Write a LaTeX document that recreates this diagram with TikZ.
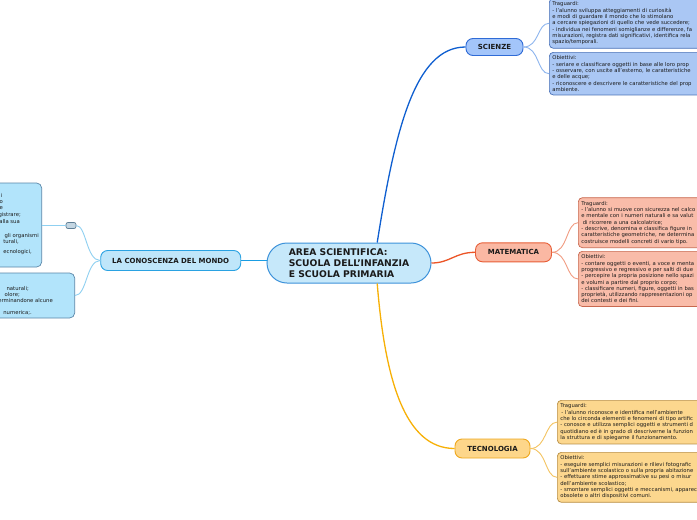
\documentclass[tikz,border=0pt]{standalone}
\usepackage{fontspec}
\setmainfont{DejaVu Sans}
\definecolor{txt}{HTML}{1A1A1A}
\definecolor{cenFill}{HTML}{C6E8FA}
\definecolor{cenDraw}{HTML}{3D92DA}
\definecolor{scnLine}{HTML}{0F5FD0}
\definecolor{scnFill}{HTML}{A3C5FA}
\definecolor{scnDraw}{HTML}{2F6BD6}
\definecolor{scnBoxFill}{HTML}{AAC7F4}
\definecolor{scnBoxDraw}{HTML}{4B72B8}
\definecolor{scnBranch}{HTML}{8DB5EE}
\definecolor{matLine}{HTML}{EC5527}
\definecolor{matFill}{HTML}{FAB8A3}
\definecolor{matDraw}{HTML}{E85E37}
\definecolor{matBoxFill}{HTML}{F9BCA9}
\definecolor{matBoxDraw}{HTML}{C8684F}
\definecolor{matBranch}{HTML}{F19C82}
\definecolor{tecLine}{HTML}{F7B006}
\definecolor{tecFill}{HTML}{FDD68A}
\definecolor{tecDraw}{HTML}{EEA81E}
\definecolor{tecBoxFill}{HTML}{FCD78E}
\definecolor{tecBoxDraw}{HTML}{B88F45}
\definecolor{tecBranch}{HTML}{F4C462}
\definecolor{conLine}{HTML}{1A9DE3}
\definecolor{conFill}{HTML}{BFE6FA}
\definecolor{conDraw}{HTML}{2AA2E2}
\definecolor{conBoxFill}{HTML}{B2E4FB}
\definecolor{conBoxDraw}{HTML}{5A86A8}
\definecolor{conBranch}{HTML}{8FD0F1}
\definecolor{mkFill}{HTML}{C4D6E2}
\definecolor{mkDraw}{HTML}{5F7F96}
\begin{document}
\begin{tikzpicture}[x=1pt,y=-1pt,
  central/.style={draw=cenDraw, fill=cenFill, line width=1pt, rounded corners=20pt,
    minimum width=164pt, minimum height=40pt, align=left, text=txt,
    font=\fontsize{9.2}{11}\selectfont\bfseries},
  topic/.style={draw, line width=0.9pt, rounded corners=7pt, minimum height=19pt,
    inner xsep=0pt, text=txt, font=\fontsize{7}{8}\selectfont\bfseries},
  ibox/.style={draw, line width=0.7pt, rounded corners=4pt, align=left, text width=200pt,
    inner xsep=3pt, inner ysep=3.5pt, text=txt, font=\fontsize{5.3}{6.3}\selectfont},
  frag/.style={anchor=base east, inner sep=0pt, text=txt, font=\fontsize{5.3}{6.3}\selectfont},
  conn/.style={line width=1.3pt},
  brn/.style={line width=0.9pt}]
\useasboundingbox (0,0) rectangle (697,520);
\clip (0,0) rectangle (697,520);
\fill[white] (0,0) rectangle (697,520);

% central
\node[central] (cen) at (349,263) {AREA SCIENTIFICA:\\SCUOLA DELL'INFANZIA\\E SCUOLA PRIMARIA};

% topics
\node[topic, draw=scnDraw, fill=scnFill, minimum width=57pt, minimum height=17pt] (scn) at (494.5,47) {SCIENZE};
\node[topic, draw=matDraw, fill=matFill, minimum width=76pt] (mat) at (513.5,252.3) {MATEMATICA};
\node[topic, draw=tecDraw, fill=tecFill, minimum width=75pt] (tec) at (492.5,448.5) {TECNOLOGIA};
\node[topic, draw=conDraw, fill=conFill, minimum width=140pt, minimum height=20pt] (con) at (170.7,260.5) {LA CONOSCENZA DEL MONDO};

% scienze boxes
\node[ibox, draw=scnBoxDraw, fill=scnBoxFill, anchor=north west] (sb1) at (549,-2) {Traguardi:\\
- l'alunno sviluppa atteggiamenti di curiosità\\
e modi di guardare il mondo che lo stimolano\\
a cercare spiegazioni di quello che vede succedere;\\
- individua nei fenomeni somiglianze e differenze, fa\\
misurazioni, registra dati significativi, identifica rela\\
spazio/temporali.};
\node[ibox, draw=scnBoxDraw, fill=scnBoxFill, anchor=north west] (sb2) at (549,52) {Obiettivi:\\
- seriare e classificare oggetti in base alle loro prop\\
- osservare, con uscite all'esterno, le caratteristiche\\
e delle acque;\\
- riconoscere e descrivere le caratteristiche del prop\\
ambiente.};

% matematica boxes
\node[ibox, draw=matBoxDraw, fill=matBoxFill, anchor=south west] (mb1) at (578,248) {Traguardi:\\
- l'alunno si muove con sicurezza nel calco\\
e mentale con i numeri naturali e sa valut\\
\hspace*{1.5pt}di ricorrere a una calcolatrice;\\
- descrive, denomina e classifica figure in\\
caratteristiche geometriche, ne determina\\
costruisce modelli concreti di vario tipo.};
\node[ibox, draw=matBoxDraw, fill=matBoxFill, anchor=north west] (mb2) at (578,251) {Obiettivi:\\
- contare oggetti o eventi, a voce e menta\\
progressivo e regressivo e per salti di due\\
- percepire la propria posizione nello spazi\\
e volumi a partire dal proprio corpo;\\
- classificare numeri, figure, oggetti in bas\\
proprietà, utilizzando rappresentazioni op\\
dei contesti e dei fini.};

% tecnologia boxes
\node[ibox, draw=tecBoxDraw, fill=tecBoxFill, anchor=north west] (tb1) at (557,400) {Traguardi:\\
\hspace*{1pt}- l'alunno riconosce e identifica nell'ambiente\\
che lo circonda elementi e fenomeni di tipo artific\\
- conosce e utilizza semplici oggetti e strumenti d\\
quotidiano ed è in grado di descriverne la funzion\\
la struttura e di spiegarne il funzionamento.};
\node[ibox, draw=tecBoxDraw, fill=tecBoxFill, anchor=north west] (tb2) at (557,452) {Obiettivi:\\
- eseguire semplici misurazioni e rilievi fotografic\\
sull'ambiente scolastico o sulla propria abitazione\\
- effettuare stime approssimative su pesi o misur\\
dell'ambiente scolastico;\\
- smontare semplici oggetti e meccanismi, apparec\\
obsolete o altri dispositivi comuni.};

% conoscenza boxes (cut at the left edge)
\node[draw=conBoxDraw, fill=conBoxFill, line width=0.7pt, rounded corners=5pt,
  minimum width=140pt, minimum height=84pt, anchor=east] (lb1) at (42,225) {};
\node[draw=conBoxDraw, fill=conBoxFill, line width=0.7pt, rounded corners=5pt,
  minimum width=140pt, minimum height=45pt, anchor=east] (lb2) at (75,295.5) {};
\node[draw=mkDraw, fill=mkFill, line width=0.7pt, rounded corners=2pt,
  minimum width=10pt, minimum height=6pt, inner sep=0pt] (mk) at (71,225.5) {};

\node[frag] (f1) at (2.5,197.8) {i};
\node[frag] (f2) at (3,203.5) {o};
\node[frag] (f3) at (3,209) {e};
\node[frag] (f4) at (21,216.8) {gistrare;};
\node[frag] (f5) at (20,223) {alla sua};
\node[frag] (f6) at (39,237.3) {gli organismi};
\node[frag] (f7) at (19,243.8) {turali,};
\node[frag] (f8) at (32,253.8) {ecnologici,};
\node[frag] (g1) at (29,290.8) {naturali;};
\node[frag] (g2) at (20,296.8) {olore;};
\node[frag] (g3) at (53,302.8) {terminandone alcune};
\node[frag] (g4) at (32,314.3) {numerica;.};

% main connectors
\draw[conn, scnLine] (cen.36.5) .. controls (395,130) and (415,47) .. (scn.west);
\draw[conn, matLine] (cen.east) .. controls (450,263) and (455,252.3) .. (mat.west);
\draw[conn, tecLine] (cen.-36.5) .. controls (385,380) and (405,448.5) .. (tec.west);
\draw[conn, conLine] (con.east) -- (con.east -| cen.west);

% branches
\draw[brn, scnBranch] (scn.east) .. controls +(16,0) and +(-12,0) .. (sb1.west);
\draw[brn, scnBranch] (scn.east) .. controls +(16,0) and +(-12,0) .. (sb2.west);
\draw[brn, matBranch] (mat.east) .. controls +(16,0) and +(-12,0) .. (mb1.west);
\draw[brn, matBranch] (mat.east) .. controls +(16,0) and +(-12,0) .. (mb2.west);
\draw[brn, tecBranch] (tec.east) .. controls +(16,0) and +(-12,0) .. (tb1.west);
\draw[brn, tecBranch] (tec.east) .. controls +(16,0) and +(-12,0) .. (tb2.west);
\draw[brn, conBranch] (con.west) .. controls +(-14,0) and +(10,0) .. (mk.east);
\draw[brn, conBranch] (con.west) .. controls +(-14,0) and +(12,0) .. (lb2.east);
\draw[brn, conBranch] (mk.west) -- (mk.west -| lb1.east);
\end{tikzpicture}
\end{document}
